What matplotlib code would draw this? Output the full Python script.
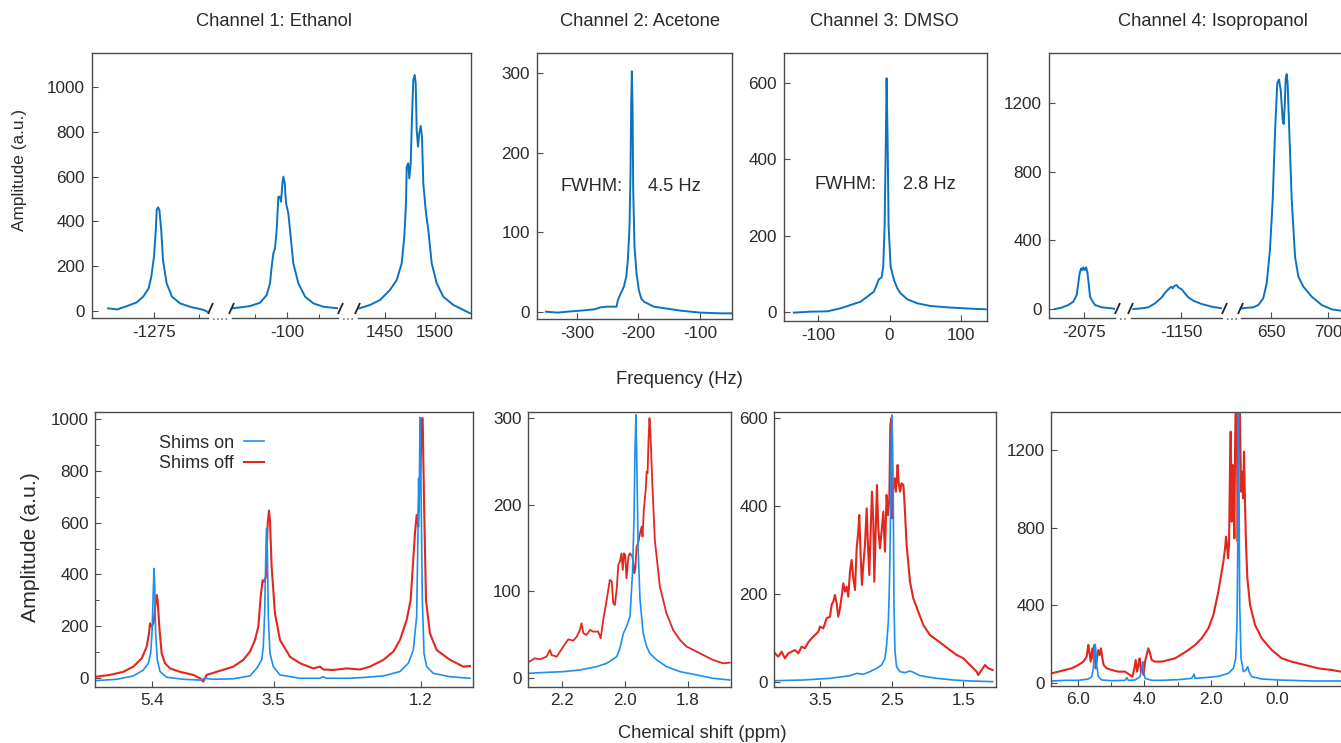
import matplotlib
matplotlib.use('Agg')
import matplotlib.pyplot as plt
from matplotlib.lines import Line2D
from matplotlib.ticker import FixedLocator

plt.rcParams['font.family'] = ['Liberation Sans', 'DejaVu Sans']
plt.rcParams['axes.unicode_minus'] = False

# ---------------- data: top row, frequency (Hz) ----------------
eth_hz_1 = [-1326, -1316, -1305, -1294, -1287, -1281, -1278, -1275, -1273, -1272, -1270.5, -1269,
            -1267, -1265, -1261, -1255, -1246, -1235, -1220, -1216]
eth_amp_1 = [12, 7, 22, 39, 64, 101, 153, 243, 362, 451, 463, 451, 362, 228, 124, 64, 34, 19, 5, -3]
eth_hz_2 = [-143.2, -136.7, -128.9, -121.1, -115.9, -113.3, -112.0, -110.7, -109.4, -108.1, -106.8,
            -105.5, -104.7, -103.6, -102.9, -101.8, -100.8, -99.0, -97.7, -95.1, -91.2, -85.9,
            -79.4, -71.6, -59.9]
eth_amp_2 = [12, 16, 22, 37, 71, 124, 198, 257, 280, 362, 510, 510, 488, 570, 600, 570, 481, 436,
             362, 213, 124, 64, 34, 19, 12]
eth_hz_3 = [1424.3, 1435, 1445, 1455, 1461.7, 1466.7, 1469.3, 1471, 1471.7, 1473.3, 1474.3, 1475.7,
            1477, 1478.3, 1479.7, 1480.7, 1481.7, 1483, 1484.3, 1485.7, 1487, 1488.3, 1491, 1493.3,
            1496.7, 1501.7, 1508.3, 1518.3, 1528.3, 1535]
eth_amp_3 = [12, 27, 49, 94, 138, 213, 332, 481, 644, 659, 592, 659, 868, 1031, 1054, 1016, 808, 734,
             793, 826, 778, 570, 436, 362, 213, 124, 64, 27, 5, -10]

ace_hz = [-350.7, -331.8, -315.6, -294, -272.4, -261.6, -250.7, -235.7, -233.5, -229.2, -223.8,
          -219.9, -217.3, -214.6, -213, -211.9, -210.8, -209.7, -208.6, -206.5, -203.2, -199.5,
          -195.6, -191.4, -185.9, -175.2, -153.5, -131.9, -99.5, -67.1, -47.1]
ace_amp = [0.4, -0.8, 0.4, 1.7, 3.3, 5.8, 6.7, 6.7, 15, 22.6, 31.8, 44.3, 65.3, 107, 174, 258, 302,
           258, 153, 82, 48.5, 27.6, 17.1, 13, 10.9, 6.7, 4.2, 1.7, -0.8, -1.7, -1.7]

dmso_hz = [-133.8, -110.5, -87.1, -68.5, -54.5, -40.6, -31.2, -21.9, -18.2, -15.0, -11.2, -8.9, -7.0,
           -5.6, -4.2, -2.8, -1.4, 1.4, 6.1, 10.7, 15.4, 24.7, 38.7, 57.3, 80.7, 103.9, 134.3]
dmso_amp = [-1.7, 0.9, 1.7, 9.6, 18.3, 27, 40, 53.3, 70.7, 85.6, 90.8, 118.8, 223.6, 406.9, 612.4,
            450, 223.6, 118.8, 83.8, 62, 48.9, 33.2, 22.7, 15.7, 12.2, 9.6, 7]

ipa_hz_1 = [-2100.4, -2094.6, -2088.8, -2084.4, -2081.4, -2080, -2078.8, -2077.6, -2076.5, -2075.6,
            -2074.4, -2073.2, -2072.1, -2070.9, -2069.7, -2068.2, -2065.4, -2059.5, -2050.7, -2048]
ipa_amp_1 = [0, 7.8, 23.3, 42.7, 81.5, 149.4, 207.6, 236.7, 227, 242.5, 227, 242.5, 217.4, 149.4,
             71.8, 52.4, 23.3, 9.7, 3.9, 0]
ipa_hz_2 = [-1191.8, -1184.5, -1178.7, -1172.8, -1166.9, -1164, -1161.1, -1158.8, -1157.3, -1155.9,
            -1153.8, -1152.4, -1149.4, -1146.5, -1143.6, -1139.2, -1131.9, -1123.1, -1114.3]
ipa_amp_2 = [0, 3.9, 9.7, 33, 68, 95, 114.5, 130, 120.3, 133.9, 139.8, 126.2, 114.5, 91.2, 68, 48.5,
             29.1, 13.6, 3.9]
ipa_hz_3 = [624.3, 630.1, 634.5, 638.9, 643.2, 646.2, 649.1, 651.5, 653.5, 655.5, 657, 658.5, 660.3,
            661.1, 662, 662.9, 663.8, 664.6, 666.1, 668.2, 671.1, 674, 678.4, 685.7, 694.5, 703.2,
            711.3, 720, 740]
ipa_amp_3 = [3.9, 7.8, 9.7, 23.3, 62.1, 149.4, 343.5, 634.8, 1023, 1314, 1337, 1275, 1100, 1077, 1178,
             1343, 1368, 1314, 1023, 634.8, 304.7, 188.3, 130, 71.8, 23.3, -1.9, -9.7, -12, -14]

# ---------------- data: bottom row, chemical shift (ppm) ----------------
eth_ppm_on = [6.274, 5.952, 5.691, 5.535, 5.457, 5.421, 5.400, 5.384, 5.369, 5.358, 5.343, 5.317,
              5.275, 5.171, 4.911, 4.651, 4.573, 4.442, 4.130, 3.870, 3.766, 3.688, 3.662, 3.641,
              3.625, 3.615, 3.610, 3.599, 3.584, 3.558, 3.506, 3.402, 3.089, 2.777, 2.735, 2.673,
              2.309, 2.048, 1.788, 1.528, 1.398, 1.320, 1.268, 1.247, 1.237, 1.229, 1.216, 1.200,
              1.179, 1.153, 1.112, 1.008, 0.747, 0.435]
eth_amp_on = [-10, -5, 8, 31, 57, 95, 173, 301, 423, 353, 173, 70, 25, 3, -5, -8, -1, -5, -3, 8, 37,
              70, 121, 250, 456, 559, 578, 494, 237, 95, 44, 12, -1, -1, 5, -1, -1, 3, 8, 25, 57,
              108, 237, 559, 771, 649, 1006, 752, 301, 95, 44, 18, 5, -1]
eth_ppm_off = [6.274, 6.056, 5.848, 5.691, 5.561, 5.483, 5.447, 5.431, 5.405, 5.379, 5.364, 5.343,
               5.327, 5.312, 5.286, 5.249, 5.197, 5.119, 4.963, 4.755, 4.651, 4.599, 4.547, 4.390,
               4.130, 3.974, 3.870, 3.792, 3.740, 3.703, 3.672, 3.651, 3.620, 3.594, 3.573, 3.558,
               3.532, 3.480, 3.402, 3.245, 3.089, 2.881, 2.777, 2.725, 2.569, 2.361, 2.153, 1.996,
               1.788, 1.632, 1.528, 1.424, 1.362, 1.294, 1.268, 1.242, 1.226, 1.205, 1.190, 1.174,
               1.153, 1.122, 1.060, 0.955, 0.747, 0.539, 0.435]
eth_amp_off = [5, 12, 24, 44, 76, 121, 172, 211, 198, 211, 237, 288, 320, 301, 198, 95, 57, 37, 24,
               12, -1, -14, 12, 24, 44, 70, 102, 147, 198, 314, 378, 372, 391, 597, 646, 610, 430,
               250, 147, 82, 57, 37, 44, 33, 31, 37, 33, 44, 70, 102, 147, 224, 301, 559, 629, 584,
               726, 816, 1003, 1003, 687, 301, 172, 108, 70, 44, 46]

ace_ppm_on = [2.304, 2.249, 2.196, 2.143, 2.090, 2.058, 2.026, 2.016, 2.005, 1.995, 1.984, 1.976,
              1.971, 1.968, 1.965, 1.962, 1.958, 1.952, 1.942, 1.931, 1.921, 1.899, 1.868, 1.825,
              1.772, 1.720, 1.667]
ace_amp_on = [5.4, 6.5, 7.3, 9.2, 13.1, 16.9, 24.6, 34.2, 51.5, 59.2, 70.8, 120.8, 186, 263, 303.5,
              243.8, 147.7, 90, 51.5, 36.2, 28.5, 20.8, 13.1, 7.3, 3.5, -0.4, -2.3]
ace_ppm_off = [2.304, 2.286, 2.270, 2.249, 2.238, 2.233, 2.217, 2.196, 2.180, 2.164, 2.153, 2.143,
               2.138, 2.132, 2.122, 2.111, 2.101, 2.085, 2.077, 2.069, 2.058, 2.048, 2.042, 2.037,
               2.032, 2.026, 2.021, 2.016, 2.011, 2.007, 2.003, 1.999, 1.995, 1.989, 1.984, 1.976,
               1.970, 1.967, 1.963, 1.958, 1.952, 1.947, 1.944, 1.940, 1.934, 1.931, 1.928, 1.925,
               1.922, 1.919, 1.913, 1.905, 1.889, 1.868, 1.847, 1.825, 1.804, 1.772, 1.741, 1.720,
               1.688, 1.667]
ace_amp_off = [18.8, 22.7, 21.5, 24.6, 32.3, 26.5, 24.6, 36.2, 44.6, 43.1, 47.7, 55.4, 63.1, 51.5,
               49.6, 55.4, 53.5, 53.5, 45.8, 66.9, 90, 113.1, 111.2, 86.2, 84.2, 103.5, 130.4, 134.2,
               143.8, 124.6, 143.8, 141.9, 115, 140, 143.8, 140, 120.8, 126.5, 151.5, 155.4, 166.9,
               174.6, 163.1, 193.8, 216.9, 238, 236.2, 274.6, 299.6, 282.3, 224.6, 159.2, 105.4,
               74.6, 55.4, 43.8, 36.2, 30.4, 24.6, 20.8, 16.9, 17.7]

dmso_ppm_on = [4.136, 3.740, 3.367, 3.087, 2.994, 2.901, 2.808, 2.714, 2.645, 2.598, 2.575, 2.551,
               2.537, 2.528, 2.519, 2.509, 2.500, 2.491, 2.481, 2.472, 2.458, 2.435, 2.388, 2.318,
               2.248, 2.202, 2.108, 1.875, 1.642, 1.409, 1.092]
dmso_amp_on = [3, 4.5, 8.3, 14.4, 19.7, 17.4, 23.5, 31.1, 38.6, 53.8, 84.1, 137.1, 212.9, 288.6,
               402.3, 553.8, 606.8, 538.6, 402.3, 175, 68.9, 34.8, 23.5, 21.2, 25, 22, 14.4, 8.3,
               4.5, 2.3, 0.8]
dmso_ppm_off = [4.136, 4.090, 4.043, 3.997, 3.950, 3.903, 3.857, 3.810, 3.763, 3.717, 3.670, 3.624,
                3.577, 3.530, 3.507, 3.460, 3.414, 3.367, 3.344, 3.321, 3.297, 3.274, 3.251, 3.227,
                3.204, 3.181, 3.157, 3.134, 3.111, 3.087, 3.064, 3.041, 3.017, 2.994, 2.971, 2.957,
                2.938, 2.920, 2.901, 2.878, 2.854, 2.836, 2.817, 2.798, 2.780, 2.761, 2.747, 2.728,
                2.710, 2.691, 2.668, 2.645, 2.621, 2.598, 2.575, 2.556, 2.537, 2.523, 2.509, 2.500,
                2.481, 2.463, 2.444, 2.421, 2.407, 2.388, 2.365, 2.341, 2.328, 2.295, 2.248, 2.202,
                2.132, 2.062, 1.969, 1.875, 1.782, 1.689, 1.596, 1.502, 1.409, 1.362, 1.316, 1.293,
                1.246, 1.199, 1.153, 1.092]
dmso_amp_off = [65.2, 57.6, 68.9, 53.8, 65.2, 68.9, 72.7, 65.2, 80.3, 76.5, 90.2, 99.2, 106.8, 114.4,
                125.8, 122, 144.7, 148.5, 175, 182.6, 197.7, 178.8, 148.5, 167.4, 193.9, 224.2,
                205.3, 216.7, 193.9, 250.8, 277.3, 235.6, 209.1, 303.8, 341.7, 379.5, 288.6, 220.5,
                265.9, 311.4, 394.7, 311.4, 243.2, 341.7, 432.6, 364.4, 228, 341.7, 447.7, 349.2,
                303.8, 341.7, 387.1, 296.2, 425, 379.5, 417.4, 584.1, 599.2, 372, 440.2, 462.9,
                432.6, 493.2, 455.3, 432.6, 451.5, 447.7, 417.4, 311.4, 228, 190.2, 159.8, 129.5,
                106.8, 95.5, 84.1, 72.7, 61.4, 53.8, 38.6, 31.1, 23.5, 15.9, 27.3, 38.6, 31.1, 27.3]

ipa_ppm_on = [6.793, 6.392, 5.990, 5.689, 5.588, 5.538, 5.508, 5.488, 5.468, 5.438, 5.388, 5.287,
              4.986, 4.584, 4.524, 4.484, 4.283, 4.133, 4.082, 4.052, 4.022, 3.982, 3.781, 3.480,
              2.978, 2.576, 2.506, 2.476, 2.175, 1.773, 1.472, 1.321, 1.251, 1.211, 1.191, 1.181,
              1.171, 1.151, 1.130, 1.090, 1.020, 0.940, 0.890, 0.849, 0.769, 0.468, -0.034, -1.038,
              -1.922]
ipa_amp_on = [10.3, 13.7, 13.7, 20.6, 32.6, 75.6, 161.5, 199.3, 178.7, 92.8, 32.6, 15.5, 12, 13.7,
              27.5, 13.7, 15.5, 32.6, 75.6, 110, 58.4, 24.1, 13.7, 13.7, 17.2, 24.1, 44.7, 24.1,
              27.5, 34.4, 49.8, 75.6, 127.1, 316.2, 659.8, 1003.4, 1450, 1003.4, 402, 127.1, 58.4,
              67, 84.2, 58.4, 32.6, 20.6, 15.5, 10.3, 10.3]
ipa_ppm_off = [6.793, 6.592, 6.392, 6.191, 5.990, 5.839, 5.739, 5.689, 5.659, 5.618, 5.568, 5.538,
               5.508, 5.468, 5.428, 5.388, 5.347, 5.307, 5.267, 5.227, 5.137, 4.986, 4.785, 4.584,
               4.434, 4.363, 4.303, 4.263, 4.223, 4.183, 4.143, 4.102, 4.062, 4.022, 3.982, 3.932,
               3.882, 3.831, 3.781, 3.681, 3.480, 3.279, 3.078, 2.878, 2.677, 2.476, 2.275, 2.074,
               1.924, 1.773, 1.673, 1.622, 1.572, 1.542, 1.512, 1.482, 1.452, 1.422, 1.402, 1.371,
               1.341, 1.311, 1.291, 1.271, 1.251, 1.221, 1.191, 1.161, 1.130, 1.090, 1.060, 1.030,
               1.000, 0.970, 0.940, 0.900, 0.819, 0.669, 0.468, 0.167, -0.135, -0.436, -0.837,
               -1.239, -1.641, -1.922]
ipa_amp_off = [49.8, 58.4, 67, 75.6, 92.8, 110, 135.7, 195.9, 161.5, 110, 178.7, 127.1, 195.9, 75.6,
               127.1, 170.1, 144.3, 178.7, 127.1, 92.8, 75.6, 67, 58.4, 58.4, 41.2, 32.6, 75.6,
               118.6, 58.4, 92.8, 127.1, 58.4, 75.6, 41.2, 110, 144.3, 178.7, 152.9, 118.6, 110,
               110, 118.6, 127.1, 147.8, 170.1, 195.9, 230.2, 281.8, 350.5, 470.8, 573.9, 625.4,
               694.2, 754.3, 711.3, 642.6, 711.3, 1123.7, 1295.5, 831.6, 1123.7, 917.5, 745.7,
               1192.4, 1450, 1450, 728.5, 1450, 1450, 986.3, 1089.3, 951.9, 1192.4, 917.5, 711.3,
               539.5, 402.1, 299, 230.2, 170.1, 127.1, 110, 92.8, 75.6, 67, 58.4]

titles = ['Channel 1: Ethanol', 'Channel 2: Acetone', 'Channel 3: DMSO', 'Channel 4: Isopropanol']
fwhm_labels = ['4.5 Hz', '2.8 Hz']
legend_labels = ['Shims on', 'Shims off']

# ---------------- styling ----------------
W, H = 1341, 743
TOP_BLUE = '#0b72bf'
ON_BLUE = '#1c8ff0'
OFF_RED = '#e2271d'
SPINE = '#4a4a4a'
TXT = '#2a2a2a'
TICK_FS = 12.3

fig = plt.figure(figsize=(W / 100, H / 100), dpi=100)
fig.patch.set_facecolor('white')


def rect(l, t, r, b):
    return [l / W, 1 - b / H, (r - l) / W, (b - t) / H]


def style(ax, pad=5):
    for s in ax.spines.values():
        s.set_color(SPINE)
        s.set_linewidth(1.0)
    ax.tick_params(which='major', direction='in', length=4, width=0.8, color=SPINE,
                   labelsize=TICK_FS, labelcolor=TXT, pad=pad)
    ax.tick_params(which='minor', direction='in', length=3, width=0.7, color=SPINE)


def fig_line(p0, p1, **kw):
    fig.add_artist(Line2D([p0[0] / W, p1[0] / W], [1 - p0[1] / H, 1 - p1[1] / H],
                          transform=fig.transFigure, **kw))


def broken(frame_px, segs, ylim, yticks, series, color):
    l, t, r, b = frame_px
    fr = fig.add_axes(rect(l, t, r, b))
    style(fr)
    fr.set_xticks([])
    fr.spines['bottom'].set_visible(False)
    fr.set_ylim(*ylim)
    fr.set_yticks(yticks)
    fr.patch.set_alpha(0)
    prev_r = None
    for (sl, sr, xlim, ticks, minors), (xs, ys) in zip(segs, series):
        sa = fig.add_axes(rect(sl, t, sr, b))
        style(sa, pad=5)
        sa.patch.set_alpha(0)
        for k in ('top', 'left', 'right'):
            sa.spines[k].set_visible(False)
        sa.set_yticks([])
        sa.set_ylim(*ylim)
        sa.set_xlim(*xlim)
        sa.set_xticks(ticks)
        sa.set_xticklabels([str(v) for v in ticks])
        if minors:
            sa.xaxis.set_minor_locator(FixedLocator(minors))
        sa.plot(xs, ys, color=color, lw=1.4)
        if prev_r is not None:
            kw = dict(color='#222222', lw=1.3, solid_capstyle='butt')
            fig_line((prev_r, b - 4), (prev_r + 5, b - 15), **kw)
            fig_line((sl - 3, b - 4), (sl + 2, b - 15), **kw)
            fig_line((prev_r + 5, b + 1.5), (sl - 4, b + 1.5), color='#777777', lw=1.2,
                     linestyle=(0, (1, 1.5)))
        prev_r = sr
    return fr


# ---------------- top row ----------------
broken((92, 53, 471, 318),
       [(92, 208, (-1343.9, -1215), [-1275], [-1225]),
        (232, 338, (-143.0, -60.2), [-100], [-125, -75]),
        (358, 471, (1423, 1536), [1450, 1500], None)],
       (-31.2, 1151.8), [0, 200, 400, 600, 800, 1000],
       [(eth_hz_1, eth_amp_1), (eth_hz_2, eth_amp_2), (eth_hz_3, eth_amp_3)], TOP_BLUE)

ax2 = fig.add_axes(rect(537, 53, 732, 319))
style(ax2)
ax2.plot(ace_hz, ace_amp, color=TOP_BLUE, lw=1.4)
ax2.set_xlim(-365, -48)
ax2.set_ylim(-8.8, 325)
ax2.set_xticks([-300, -200, -100])
ax2.set_yticks([0, 100, 200, 300])
ax2.text(-326, 158, 'FWHM:', fontsize=13.2, color=TXT, ha='left', va='center')
ax2.text(-184, 158, fwhm_labels[0], fontsize=13.2, color=TXT, ha='left', va='center')

ax3 = fig.add_axes(rect(784, 53, 987, 321))
style(ax3)
ax3.plot(dmso_hz, dmso_amp, color=TOP_BLUE, lw=1.4)
ax3.set_xlim(-147.5, 136)
ax3.set_ylim(-23.6, 678.5)
ax3.set_xticks([-100, 0, 100])
ax3.set_yticks([0, 200, 400, 600])
ax3.text(-105, 335, 'FWHM:', fontsize=13.2, color=TXT, ha='left', va='center')
ax3.text(18, 335, fwhm_labels[1], fontsize=13.2, color=TXT, ha='left', va='center')

broken((1049, 53, 1345, 318),
       [(1049, 1115, (-2105.7, -2047.8), [-2075], None),
        (1131, 1222, (-1193.9, -1114.0), [-1150], None),
        (1241, 1345, (623.7, 714.9), [650, 700], None)],
       (-52.4, 1491), [0, 400, 800, 1200],
       [(ipa_hz_1, ipa_amp_1), (ipa_hz_2, ipa_amp_2), (ipa_hz_3, ipa_amp_3)], TOP_BLUE)

# ---------------- bottom row ----------------
def bottom(px, xlim, ylim, xticks, xlabels, yticks, yminor=None, xminor=None):
    ax = fig.add_axes(rect(*px))
    style(ax, pad=4.5)
    ax.set_xlim(*xlim)
    ax.set_ylim(*ylim)
    ax.set_xticks(xticks)
    ax.set_xticklabels(xlabels)
    ax.set_yticks(yticks)
    if yminor:
        ax.yaxis.set_minor_locator(FixedLocator(yminor))
    if xminor:
        ax.xaxis.set_minor_locator(FixedLocator(xminor))
    return ax


ax5 = bottom((95, 412, 473, 687), (6.29, 0.388), (-34.7, 1027), [5.4, 3.5, 1.2], ['5.4', '3.5', '1.2'],
             [0, 200, 400, 600, 800, 1000], yminor=[100, 300, 500, 700, 900])
l_off, = ax5.plot(eth_ppm_off, eth_amp_off, color=OFF_RED, lw=1.5)
l_on, = ax5.plot(eth_ppm_on, eth_amp_on, color=ON_BLUE, lw=1.2)
ax5.legend([l_on, l_off], legend_labels, loc='upper left', bbox_to_anchor=(0.168, 0.918),
           frameon=False, markerfirst=False, handlelength=1.1, handletextpad=0.6,
           labelspacing=0.2, fontsize=13, borderpad=0, borderaxespad=0, labelcolor=TXT)

ax6 = bottom((528, 412, 731, 687), (2.308, 1.663), (-10.4, 306.8), [2.2, 2.0, 1.8],
             ['2.2', '2.0', '1.8'], [0, 100, 200, 300])
ax6.plot(ace_ppm_off, ace_amp_off, color=OFF_RED, lw=1.3)
ax6.plot(ace_ppm_on, ace_amp_on, color=ON_BLUE, lw=1.2)

ax7 = bottom((774, 412, 996, 687), (4.15, 1.045), (-11.4, 613.6), [3.5, 2.5, 1.5],
             ['3.5', '2.5', '1.5'], [0, 200, 400, 600])
ax7.plot(dmso_ppm_off, dmso_amp_off, color=OFF_RED, lw=1.5)
ax7.plot(dmso_ppm_on, dmso_amp_on, color=ON_BLUE, lw=1.2)

ax8 = bottom((1051, 412, 1345, 686), (6.813, -2.04), (-15.5, 1397), [6, 4, 2, 0],
             ['6.0', '4.0', '2.0', '0.0'], [0, 400, 800, 1200], xminor=[5, 3, 1])
ax8.plot(ipa_ppm_off, ipa_amp_off, color=OFF_RED, lw=1.5)
ax8.plot(ipa_ppm_on, ipa_amp_on, color=ON_BLUE, lw=1.2)

# ---------------- figure texts ----------------
for txt, cx in zip(titles, [274, 640, 884, 1213]):
    fig.text(cx / W, 1 - 22 / H, txt, ha='center', va='center', fontsize=13.2, color=TXT)
fig.text(679 / W, 1 - 380 / H, 'Frequency (Hz)', ha='center', va='center', fontsize=13.2, color=TXT)
fig.text(702 / W, 1 - 733 / H, 'Chemical shift (ppm)', ha='center', va='center', fontsize=13.2,
         color=TXT)
fig.text(20 / W, 1 - 170 / H, 'Amplitude (a.u.)', rotation=90, ha='center', va='center',
         fontsize=12.4, color=TXT)
fig.text(31 / W, 1 - 547 / H, 'Amplitude (a.u.)', rotation=90, ha='center', va='center',
         fontsize=15.3, color=TXT)

fig.savefig('out.png', dpi=100, facecolor='white')
